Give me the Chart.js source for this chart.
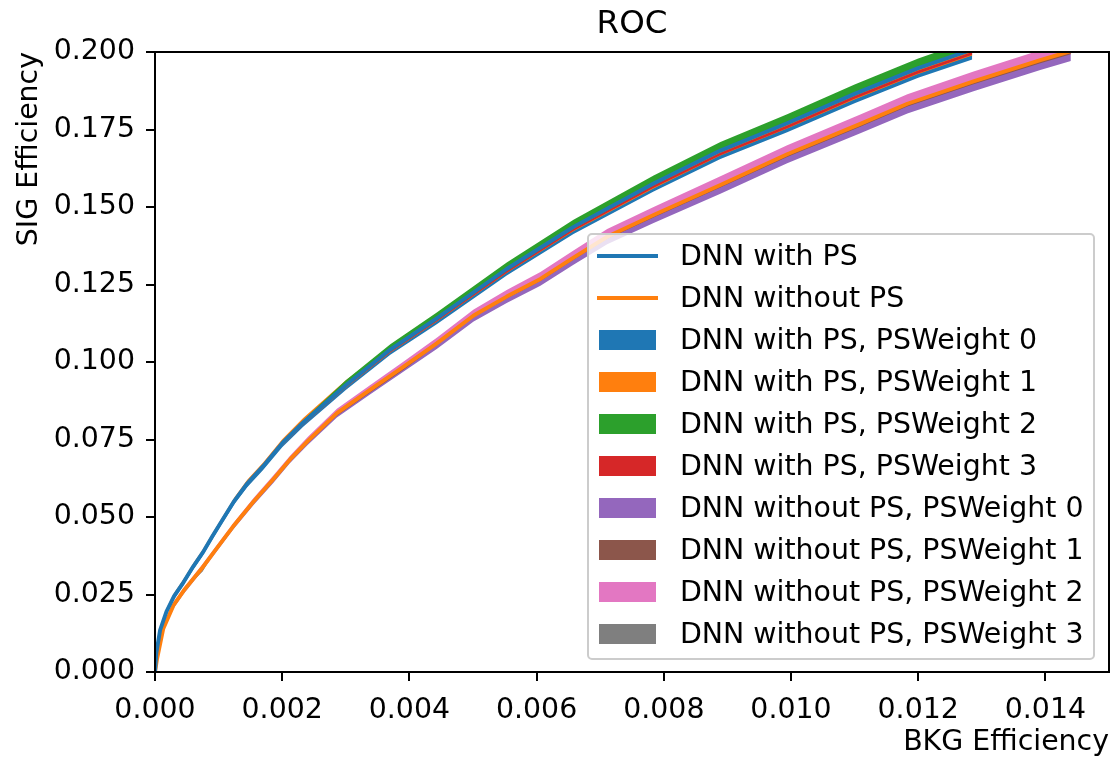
<!DOCTYPE html>
<html>
<head>
<meta charset="utf-8">
<title>ROC</title>
<script src="https://cdn.jsdelivr.net/npm/chart.js@4.4.1/dist/chart.umd.min.js"></script>
<style>
  html, body { margin: 0; padding: 0; background: #fff; }
  #wrap { position: relative; width: 1113px; height: 757px; }
  #legend {
    position: absolute; left: 587px; top: 233px; width: 504px; height: 423px;
    border: 2px solid #cccccc; border-radius: 5px; background: rgba(255,255,255,0.8);
    font-family: 'DejaVu Sans', sans-serif; font-size: 28.4px; color: #000;
  }
  .row { position: absolute; left: 0; right: 0; height: 42px; }
  .row .txt { position: absolute; left: 91px; top: 0; height: 42px; line-height: 42px; white-space: nowrap; }
  .row .ln { position: absolute; left: 8px; width: 61px; height: 4px; top: 19px; }
  .row .patch { position: absolute; left: 10px; width: 57px; height: 20px; top: 11px; }
</style>
</head>
<body>
<div id="wrap">
  <canvas id="roc" width="1113" height="757"></canvas>
  <div id="legend"></div>
</div>
<script>
// ---- ROC curves: background efficiency (x) vs signal efficiency (y) ----
const bkgWithPS = [0, 0.00002, 0.00008, 0.00018, 0.00030, 0.00045, 0.00060, 0.00075, 0.00090, 0.00105, 0.00125, 0.00145, 0.00170, 0.00200, 0.00233, 0.00300, 0.00370, 0.00443, 0.00553, 0.00658, 0.00784, 0.00889, 0.00994, 0.01100, 0.01200, 0.01285];
const sigWithPS = [0, 0.0060, 0.0135, 0.0195, 0.0245, 0.0290, 0.0340, 0.0385, 0.0437, 0.0487, 0.0553, 0.0608, 0.0664, 0.0738, 0.0805, 0.0925, 0.1040, 0.1141, 0.1300, 0.1436, 0.1576, 0.1682, 0.1770, 0.1865, 0.1948, 0.2008];

const bkgWithoutPS = [0, 0.00003, 0.00013, 0.00029, 0.00045, 0.00060, 0.00075, 0.00092, 0.00123, 0.00155, 0.00186, 0.00212, 0.00240, 0.00286, 0.00338, 0.00391, 0.00443, 0.00501, 0.00553, 0.00606, 0.00658, 0.00711, 0.00784, 0.00889, 0.00994, 0.01109, 0.01183, 0.01287, 0.01392, 0.01440];
const sigWithoutPS = [0, 0.0040, 0.0140, 0.0215, 0.0262, 0.0300, 0.0338, 0.0385, 0.0470, 0.0550, 0.0622, 0.0685, 0.0745, 0.0835, 0.0910, 0.0985, 0.1060, 0.1150, 0.1211, 0.1268, 0.1337, 0.1404, 0.1474, 0.1571, 0.1670, 0.1768, 0.1833, 0.1905, 0.1974, 0.2003];

// PS weight variation bands (lower / upper edge), with PS
const withPS_w0_lo = [0, 0.0054, 0.0127, 0.0185, 0.0235, 0.0280, 0.0330, 0.0375, 0.0427, 0.0477, 0.0542, 0.0596, 0.0652, 0.0725, 0.0791, 0.0910, 0.1023, 0.1122, 0.1279, 0.1413, 0.1550, 0.1655, 0.1741, 0.1835, 0.1917, 0.1976];
const withPS_w0_hi = [0.0002, 0.0063, 0.0139, 0.0200, 0.0250, 0.0295, 0.0345, 0.0390, 0.0442, 0.0492, 0.0559, 0.0614, 0.0670, 0.0745, 0.0812, 0.0933, 0.1049, 0.1150, 0.1311, 0.1448, 0.1589, 0.1696, 0.1785, 0.1880, 0.1964, 0.2024];
const withPS_w1_lo = [0, 0.0056, 0.0130, 0.0189, 0.0239, 0.0284, 0.0334, 0.0379, 0.0431, 0.0481, 0.0546, 0.0601, 0.0657, 0.0730, 0.0797, 0.0916, 0.1030, 0.1130, 0.1287, 0.1422, 0.1560, 0.1666, 0.1753, 0.1847, 0.1929, 0.1989];
const withPS_w1_hi = [0.0003, 0.0067, 0.0143, 0.0205, 0.0255, 0.0300, 0.0350, 0.0395, 0.0447, 0.0497, 0.0564, 0.0620, 0.0676, 0.0751, 0.0819, 0.0941, 0.1049, 0.1150, 0.1311, 0.1448, 0.1589, 0.1696, 0.1785, 0.1880, 0.1964, 0.2024];
const withPS_w2_lo = [0, 0.0061, 0.0136, 0.0196, 0.0246, 0.0291, 0.0341, 0.0386, 0.0438, 0.0488, 0.0554, 0.0609, 0.0665, 0.0739, 0.0806, 0.0927, 0.1042, 0.1143, 0.1302, 0.1438, 0.1579, 0.1685, 0.1773, 0.1868, 0.1951, 0.2011];
const withPS_w2_hi = [0.0002, 0.0063, 0.0139, 0.0200, 0.0250, 0.0295, 0.0345, 0.0390, 0.0442, 0.0492, 0.0559, 0.0614, 0.0670, 0.0745, 0.0812, 0.0941, 0.1057, 0.1160, 0.1321, 0.1459, 0.1602, 0.1710, 0.1799, 0.1895, 0.1979, 0.2040];
const withPS_w3_lo = [0, 0.0056, 0.0131, 0.0190, 0.0240, 0.0285, 0.0335, 0.0380, 0.0432, 0.0481, 0.0547, 0.0602, 0.0657, 0.0731, 0.0797, 0.0917, 0.1031, 0.1131, 0.1288, 0.1423, 0.1562, 0.1667, 0.1754, 0.1849, 0.1931, 0.1991];
const withPS_w3_hi = [0, 0.0058, 0.0133, 0.0193, 0.0243, 0.0288, 0.0338, 0.0383, 0.0435, 0.0484, 0.0550, 0.0605, 0.0661, 0.0735, 0.0802, 0.0921, 0.1036, 0.1136, 0.1295, 0.1430, 0.1570, 0.1675, 0.1763, 0.1858, 0.1940, 0.2000];

// PS weight variation bands, without PS
const withoutPS_w0_lo = [0, 0.0035, 0.0132, 0.0205, 0.0252, 0.0290, 0.0328, 0.0375, 0.0460, 0.0539, 0.0610, 0.0673, 0.0732, 0.0821, 0.0895, 0.0969, 0.1042, 0.1131, 0.1190, 0.1246, 0.1314, 0.1380, 0.1448, 0.1543, 0.1641, 0.1738, 0.1802, 0.1873, 0.1942, 0.1971];
const withoutPS_w0_hi = [0.0001, 0.0041, 0.0142, 0.0218, 0.0265, 0.0303, 0.0341, 0.0388, 0.0473, 0.0553, 0.0626, 0.0689, 0.0749, 0.0839, 0.0915, 0.0990, 0.1065, 0.1156, 0.1217, 0.1275, 0.1344, 0.1411, 0.1482, 0.1579, 0.1679, 0.1777, 0.1842, 0.1915, 0.1984, 0.2013];
const withoutPS_w1_lo = [0, 0.0039, 0.0138, 0.0212, 0.0259, 0.0297, 0.0335, 0.0382, 0.0467, 0.0543, 0.0615, 0.0678, 0.0737, 0.0827, 0.0901, 0.0975, 0.1055, 0.1144, 0.1205, 0.1261, 0.1330, 0.1397, 0.1466, 0.1563, 0.1661, 0.1759, 0.1824, 0.1896, 0.1964, 0.1993];
const withoutPS_w1_hi = [0.0001, 0.0041, 0.0142, 0.0217, 0.0264, 0.0302, 0.0340, 0.0387, 0.0472, 0.0552, 0.0624, 0.0688, 0.0748, 0.0838, 0.0913, 0.0988, 0.1064, 0.1154, 0.1215, 0.1272, 0.1342, 0.1409, 0.1479, 0.1577, 0.1676, 0.1774, 0.1839, 0.1911, 0.1981, 0.2010];
const withoutPS_w2_lo = [0, 0.0040, 0.0139, 0.0214, 0.0261, 0.0299, 0.0337, 0.0384, 0.0469, 0.0549, 0.0621, 0.0684, 0.0744, 0.0834, 0.0909, 0.0983, 0.1058, 0.1148, 0.1209, 0.1266, 0.1335, 0.1401, 0.1471, 0.1568, 0.1667, 0.1765, 0.1830, 0.1902, 0.1971, 0.2000];
const withoutPS_w2_hi = [0.0003, 0.0045, 0.0148, 0.0225, 0.0272, 0.0310, 0.0348, 0.0395, 0.0480, 0.0561, 0.0634, 0.0697, 0.0758, 0.0849, 0.0925, 0.1002, 0.1078, 0.1169, 0.1232, 0.1290, 0.1360, 0.1429, 0.1500, 0.1599, 0.1699, 0.1798, 0.1864, 0.1937, 0.2006, 0.2035];
const withoutPS_w3_lo = [0, 0.0040, 0.0139, 0.0214, 0.0261, 0.0294, 0.0324, 0.0384, 0.0469, 0.0548, 0.0620, 0.0683, 0.0743, 0.0833, 0.0908, 0.0983, 0.1058, 0.1148, 0.1208, 0.1265, 0.1334, 0.1401, 0.1471, 0.1568, 0.1666, 0.1764, 0.1829, 0.1901, 0.1970, 0.1999];
const withoutPS_w3_hi = [0, 0.0040, 0.0141, 0.0216, 0.0263, 0.0301, 0.0339, 0.0386, 0.0472, 0.0552, 0.0624, 0.0687, 0.0747, 0.0837, 0.0912, 0.0987, 0.1062, 0.1152, 0.1214, 0.1271, 0.1340, 0.1407, 0.1477, 0.1574, 0.1674, 0.1772, 0.1837, 0.1909, 0.1978, 0.2007];

const seriesLabels = [
  'DNN with PS', 'DNN without PS',
  'DNN with PS, PSWeight 0', 'DNN with PS, PSWeight 1', 'DNN with PS, PSWeight 2', 'DNN with PS, PSWeight 3',
  'DNN without PS, PSWeight 0', 'DNN without PS, PSWeight 1', 'DNN without PS, PSWeight 2', 'DNN without PS, PSWeight 3'
];

const xTickValues = [0, 0.002, 0.004, 0.006, 0.008, 0.010, 0.012, 0.014];
const yTickStep = 0.025;

// tab10 palette
const C = {
  blue: '#1f77b4', orange: '#ff7f0e', green: '#2ca02c', red: '#d62728',
  purple: '#9467bd', brown: '#8c564b', pink: '#e377c2', gray: '#7f7f7f'
};

const FONT_PX = 28.4;

function pts(xs, ys) { return xs.map((x, i) => ({ x: x, y: ys[i] })); }

// a band = invisible lower edge + upper edge filled down to it
function band(label, xs, lo, hi, color, order) {
  return [
    { label: label + ' (lower)', data: pts(xs, lo), borderWidth: 0, pointRadius: 0, fill: false,
      borderColor: color, backgroundColor: color, order: order, legendHidden: true },
    { label: label, data: pts(xs, hi), borderWidth: 0, pointRadius: 0, fill: '-1',
      borderColor: color, backgroundColor: color, order: order, kind: 'patch' }
  ];
}

function line(label, xs, ys, color) {
  return { label: label, data: pts(xs, ys), borderColor: color, backgroundColor: color,
           borderWidth: 3.9, pointRadius: 0, fill: false, tension: 0, order: 0, kind: 'line',
           borderJoinStyle: 'round', borderCapStyle: 'butt' };
}

const datasets = [
  line(seriesLabels[0], bkgWithPS, sigWithPS, C.blue),
  line(seriesLabels[1], bkgWithoutPS, sigWithoutPS, C.orange),
  ...band(seriesLabels[2], bkgWithPS, withPS_w0_lo, withPS_w0_hi, C.blue, 8),
  ...band(seriesLabels[3], bkgWithPS, withPS_w1_lo, withPS_w1_hi, C.orange, 7),
  ...band(seriesLabels[4], bkgWithPS, withPS_w2_lo, withPS_w2_hi, C.green, 6),
  ...band(seriesLabels[5], bkgWithPS, withPS_w3_lo, withPS_w3_hi, C.red, 5),
  ...band(seriesLabels[6], bkgWithoutPS, withoutPS_w0_lo, withoutPS_w0_hi, C.purple, 4),
  ...band(seriesLabels[7], bkgWithoutPS, withoutPS_w1_lo, withoutPS_w1_hi, C.brown, 3),
  ...band(seriesLabels[8], bkgWithoutPS, withoutPS_w2_lo, withoutPS_w2_hi, C.pink, 2),
  ...band(seriesLabels[9], bkgWithoutPS, withoutPS_w3_lo, withoutPS_w3_hi, C.gray, 1)
];

// axes frame on all four sides
const frame = {
  id: 'frame',
  afterDatasetsDraw(chart) {
    const { ctx, chartArea: { left, top, right, bottom } } = chart;
    ctx.save();
    ctx.strokeStyle = '#000';
    ctx.lineWidth = 2;
    ctx.strokeRect(left, top, right - left, bottom - top);
    ctx.restore();
  }
};

Chart.defaults.font.family = "'DejaVu Sans', sans-serif";
Chart.defaults.color = '#000';

const chart = new Chart(document.getElementById('roc'), {
  type: 'line',
  data: { datasets: datasets },
  options: {
    responsive: false,
    devicePixelRatio: 1,
    animation: false,
    events: [],
    layout: { padding: { left: 0, right: 4, top: 0, bottom: 0 } },
    plugins: {
      legend: { display: false },
      tooltip: { enabled: false },
      title: {
        display: true, text: 'ROC', color: '#000', fullSize: false,
        font: { size: 32.5, weight: 'normal' },
        padding: { top: 5, bottom: 8 }
      },
      filler: { propagate: false }
    },
    scales: {
      x: {
        type: 'linear', min: 0, max: 0.015,
        afterBuildTicks: (scale) => { scale.ticks = xTickValues.map(v => ({ value: v })); },
        ticks: { autoSkip: false, maxRotation: 0, font: { size: FONT_PX }, color: '#000', padding: 13,
                 callback: (v) => Number(v).toFixed(3) },
        grid: { drawOnChartArea: false, color: '#000', lineWidth: 2, tickLength: 9 },
        border: { display: false },
        title: { display: true, text: 'BKG Efficiency', align: 'end', color: '#000',
                 font: { size: FONT_PX }, padding: { top: 0, bottom: -3 } },
        afterFit: (scale) => { scale.height = 85; }
      },
      y: {
        type: 'linear', min: 0, max: 0.2,
        ticks: { stepSize: yTickStep, font: { size: FONT_PX }, color: '#000', padding: 11,
                 callback: (v) => Number(v).toFixed(3) },
        grid: { drawOnChartArea: false, color: '#000', lineWidth: 2, tickLength: 9 },
        border: { display: false },
        title: { display: true, text: 'SIG Efficiency', align: 'end', color: '#000',
                 font: { size: FONT_PX }, padding: { top: 13, bottom: 0 } },
        afterFit: (scale) => { scale.width = 155; }
      }
    }
  },
  plugins: [frame]
});

// legend built from the chart's own datasets
const legendEl = document.getElementById('legend');
chart.data.datasets.filter(d => !d.legendHidden).forEach((d, i) => {
  const row = document.createElement('div');
  row.className = 'row';
  row.style.top = (i * 42) + 'px';
  const sw = document.createElement('div');
  sw.className = d.kind === 'line' ? 'ln' : 'patch';
  sw.style.background = d.kind === 'line' ? d.borderColor : d.backgroundColor;
  const txt = document.createElement('div');
  txt.className = 'txt';
  txt.textContent = d.label;
  row.appendChild(sw);
  row.appendChild(txt);
  legendEl.appendChild(row);
});
</script>
</body>
</html>
